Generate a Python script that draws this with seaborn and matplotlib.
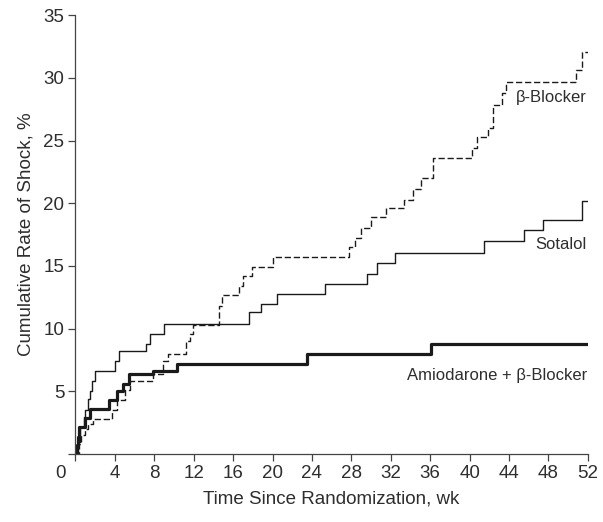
import matplotlib
matplotlib.use("Agg")
import matplotlib.pyplot as plt
import seaborn as sns
import pandas as pd

# weeks and cumulative shock rate (%) at each step
sotalol_wk = [0, 0.3, 0.5, 0.9, 1.0, 1.3, 1.5, 1.7, 2.0, 4.0, 4.4, 7.2, 7.6, 9.0,
              17.6, 18.8, 20.5, 25.3, 29.6, 30.6, 32.4, 41.5, 45.5, 47.4, 51.4, 52]
sotalol_pct = [0, 1.0, 2.2, 3.0, 3.5, 4.4, 5.0, 5.8, 6.6, 7.4, 8.2, 8.8, 9.6, 10.4,
               11.3, 12.0, 12.8, 13.6, 14.4, 15.2, 16.0, 17.0, 17.9, 18.7, 20.2, 20.2]

amio_wk = [0, 0.2, 0.3, 0.4, 1.0, 1.5, 3.4, 4.2, 4.8, 5.4, 7.9, 10.3, 23.5, 36.1, 52]
amio_pct = [0, 0.7, 1.4, 2.2, 2.9, 3.6, 4.3, 5.0, 5.6, 6.4, 6.6, 7.2, 8.0, 8.8, 8.8]

beta_wk = [0, 0.4, 0.6, 1.0, 1.3, 1.8, 3.7, 4.2, 5.0, 5.5, 7.9, 8.9, 9.4, 11.2, 11.6,
           11.9, 14.6, 14.9, 16.6, 17.0, 17.9, 20.0, 27.8, 28.4, 29.0, 30.0, 31.5,
           33.3, 34.3, 35.1, 36.3, 40.2, 40.7, 41.9, 42.4, 43.3, 43.7, 50.8, 51.4, 52]
beta_pct = [0, 0.8, 1.5, 2.0, 2.4, 2.8, 3.5, 4.3, 5.1, 5.8, 6.4, 7.4, 8.0, 9.0, 9.6,
            10.3, 11.8, 12.7, 13.4, 14.2, 14.9, 15.7, 16.5, 17.2, 18.0, 18.9, 19.6,
            20.3, 21.1, 22.0, 23.6, 24.4, 25.3, 26.0, 27.8, 28.8, 29.7, 30.6, 32.1, 32.1]

x_ticks = list(range(0, 53, 4))
y_ticks = list(range(0, 36, 5))

sns.set_style("ticks")
plt.rcParams["font.family"] = ["Liberation Sans", "DejaVu Sans"]
txt = "#2e2e2e"
ink = "#1a1a1a"

fig = plt.figure(figsize=(6.03, 5.22), dpi=100)
ax = fig.add_axes([0.125, 0.130, 0.850, 0.841])

sns.lineplot(x=beta_wk, y=beta_pct, ax=ax, drawstyle="steps-post", color=ink,
             linewidth=1.0, linestyle=(0, (4.5, 2)), estimator=None)
sns.lineplot(x=sotalol_wk, y=sotalol_pct, ax=ax, drawstyle="steps-post", color=ink,
             linewidth=1.0, estimator=None)
sns.lineplot(x=amio_wk, y=amio_pct, ax=ax, drawstyle="steps-post", color=ink,
             linewidth=2.3, estimator=None)

ax.set_xlim(0, 52)
ax.set_ylim(0, 35)
ax.set_xticks(x_ticks)
ax.set_yticks(y_ticks)
ax.set_xticklabels([""] + [str(t) for t in x_ticks[1:]])
ax.set_yticklabels([""] + [str(t) for t in y_ticks[1:]])
ax.text(-0.029, -0.045, "0", transform=ax.transAxes, ha="center", va="center",
        fontsize=13.5, color=txt)
ax.tick_params(direction="out", length=5, width=0.9, colors="#444444",
               labelsize=13.5, labelcolor=txt, pad=3)
sns.despine(ax=ax)
for side in ["left", "bottom"]:
    ax.spines[side].set_linewidth(0.9)
    ax.spines[side].set_color("#444444")

ax.set_xlabel("Time Since Randomization, wk", fontsize=13.5, color=txt, labelpad=6)
ax.set_ylabel("Cumulative Rate of Shock, %", fontsize=13.5, color=txt, labelpad=6)

ax.text(51.9, 28.4, "β-Blocker", ha="right", va="center", fontsize=12, color=txt)
ax.text(51.9, 16.7, "Sotalol", ha="right", va="center", fontsize=12, color=txt)
ax.text(51.9, 6.3, "Amiodarone + β-Blocker", ha="right", va="center", fontsize=12, color=txt)

fig.savefig("out.png", dpi=100)
